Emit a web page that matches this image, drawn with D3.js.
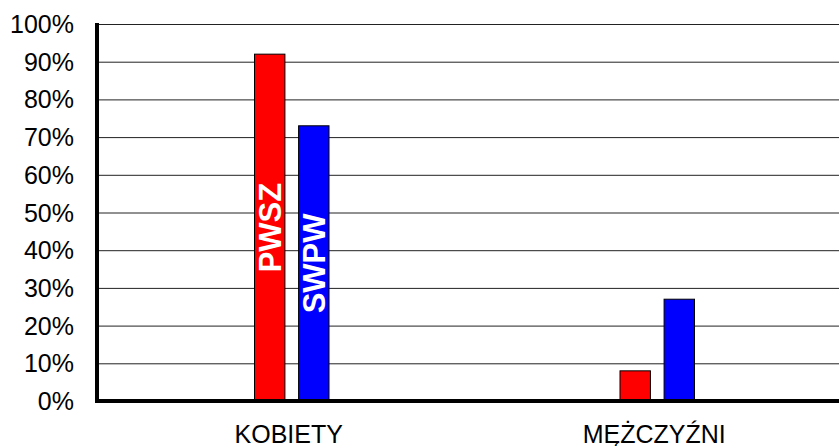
<!DOCTYPE html>
<meta charset="utf-8">
<style>
  body { margin: 0; background: #fff; }
  text { font-family: Arial, "Liberation Sans", sans-serif; }
</style>
<body>
<svg id="chart" width="839" height="446"></svg>
</body>
<script src="https://d3js.org/d3.v7.min.js"></script>
<script>
var categories = ["KOBIETY", "MĘŻCZYŹNI"];
var seriesNames = ["PWSZ", "SWPW"];
var pwsz = [92, 8];
var swpw = [73, 27];
var yTicks = [0, 10, 20, 30, 40, 50, 60, 70, 80, 90, 100];
var colors = {PWSZ: "#ff0000", SWPW: "#0000ff"};

var svg = d3.select("#chart"),
    plotLeft = 98, plotRight = 839, plotTop = 24, plotBottom = 401;

var y = d3.scaleLinear().domain([0, 100]).range([plotBottom, plotTop]);

var x = d3.scaleBand()
    .domain(categories)
    .range([109, 840]);

var xSub = d3.scaleBand()
    .domain(seriesNames)
    .range([0, 74.5])
    .paddingInner(0.31);

// gridlines
svg.append("g")
  .selectAll("line")
  .data(yTicks.filter(function(d) { return d > 0; }))
  .enter().append("line")
    .attr("x1", plotLeft)
    .attr("x2", plotRight)
    .attr("y1", function(d) { return y(d) + 0.5; })
    .attr("y2", function(d) { return y(d) + 0.5; })
    .attr("stroke", "#222")
    .attr("stroke-width", 1);

var data = [];
categories.forEach(function(c, i) {
  data.push({cat: c, key: "PWSZ", value: pwsz[i], label: i === 0});
  data.push({cat: c, key: "SWPW", value: swpw[i], label: i === 0});
});

function bx(d) { return x(d.cat) + x.bandwidth() / 2 - 37.25 + xSub(d.key); }

svg.append("g")
  .selectAll("rect")
  .data(data)
  .enter().append("rect")
    .attr("x", bx)
    .attr("y", function(d) { return y(d.value); })
    .attr("width", xSub.bandwidth())
    .attr("height", function(d) { return y(0) - y(d.value); })
    .attr("fill", function(d) { return colors[d.key]; })
    .attr("stroke", "#000")
    .attr("stroke-width", 1);

// labels inside bars
svg.append("g")
  .selectAll("text")
  .data(data.filter(function(d) { return d.label; }))
  .enter().append("text")
    .attr("transform", function(d) {
      return "translate(" + (bx(d) + xSub.bandwidth() / 2) + "," + y(d.value / 2) + ") rotate(-90)";
    })
    .attr("text-anchor", "middle")
    .attr("dy", "0.36em")
    .attr("fill", "#fff")
    .style("font-weight", "bold")
    .style("font-size", "31px")
    .text(function(d) { return d.key; });

// y axis labels
svg.append("g")
  .selectAll("text")
  .data(yTicks)
  .enter().append("text")
    .attr("x", 74)
    .attr("y", function(d) { return y(d); })
    .attr("dy", "0.36em")
    .attr("text-anchor", "end")
    .style("font-size", "25px")
    .text(function(d) { return d + "%"; });

// axes lines
svg.append("line")
  .attr("x1", 97).attr("x2", 97)
  .attr("y1", plotTop - 1).attr("y2", plotBottom + 2)
  .attr("stroke", "#000").attr("stroke-width", 4);
svg.append("line")
  .attr("x1", 95).attr("x2", plotRight)
  .attr("y1", plotBottom).attr("y2", plotBottom)
  .attr("stroke", "#000").attr("stroke-width", 4);

// category labels
svg.append("g")
  .selectAll("text")
  .data(categories)
  .enter().append("text")
    .attr("x", function(d) { return x(d) + x.bandwidth() / 2 - 3; })
    .attr("y", 443)
    .attr("text-anchor", "middle")
    .style("font-size", "25px")
    .text(function(d) { return d; });
</script>
